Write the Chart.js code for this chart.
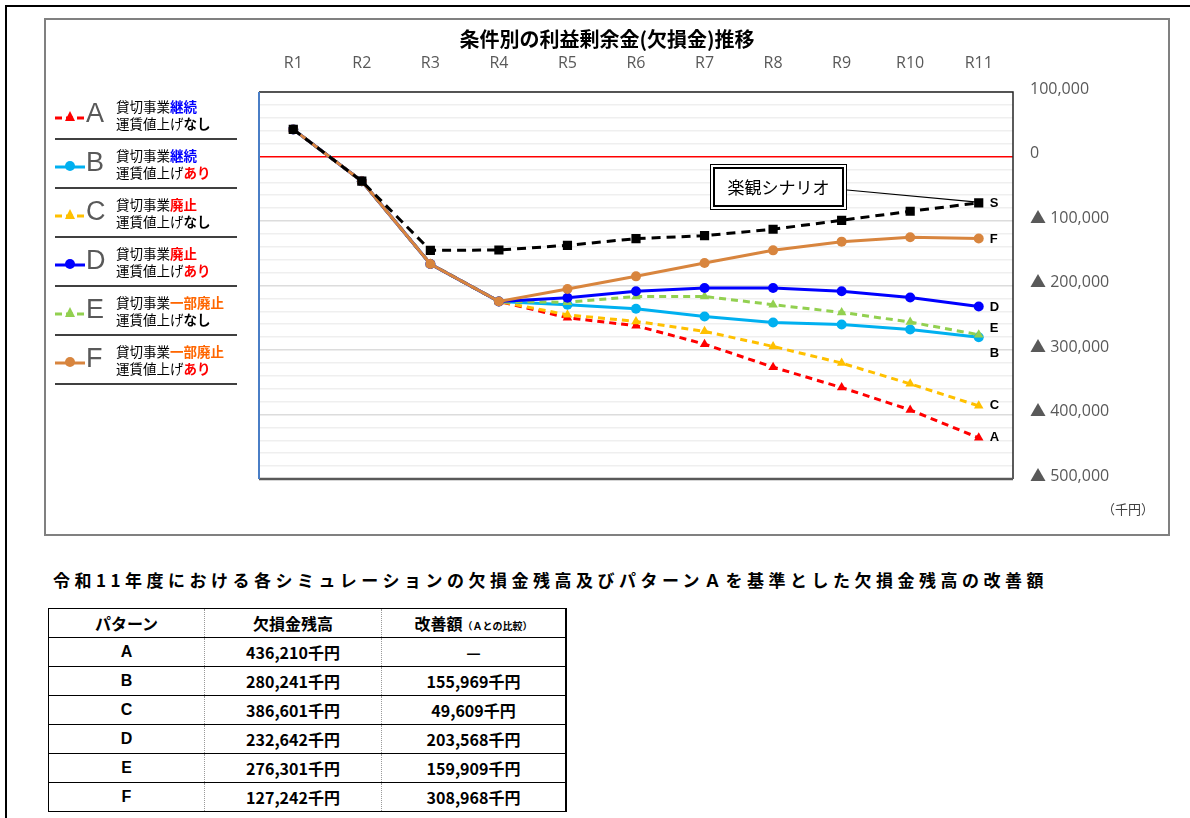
<!DOCTYPE html>
<html lang="ja">
<head>
<meta charset="utf-8">
<script src="https://cdn.jsdelivr.net/npm/chart.js@4.4.1/dist/chart.umd.min.js"></script>
<style>
  body { margin: 0; background: #fff; font-family: "Noto Sans CJK JP", sans-serif; }
  #page { position: relative; width: 1190px; height: 818px; overflow: hidden; }
  #pageLeft { position: absolute; left: 5px; top: 5px; width: 2px; height: 820px; background: #000; }
  #pageTop { position: absolute; left: 5px; top: 5px; width: 1190px; height: 2px; background: #000; }
  #frame { position: absolute; left: 44px; top: 18px; width: 1126px; height: 518px;
           box-sizing: border-box; border: 2px solid #808080; }
  #chartBox { position: absolute; left: 44px; top: 18px; width: 1126px; height: 518px; }
  #title { position: absolute; left: 44px; top: 24px; width: 1126px; text-align: center;
           font-size: 20px; font-weight: bold; color: #000; }
  #unit { position: absolute; left: 1102px; top: 499px; font-size: 13px; color: #404040; }
  #legend { position: absolute; left: 55px; top: 92px; width: 182px; }
  .entry { position: relative; height: 46px; border-bottom: 2px solid #404040; margin-bottom: 1px; }
  .entry svg { position: absolute; left: 0; top: 18px; }
  .entry .key { position: absolute; left: 31px; top: 6px; font-family: "Liberation Sans", Arial, sans-serif;
                font-size: 27px; color: #595959; }
  .entry .desc { position: absolute; left: 61px; top: 6px; font-size: 13.5px; line-height: 17px; color: #000; }
  .entry .desc b { font-weight: bold; }
  #tableTitle { position: absolute; left: 53px; top: 567px; font-size: 17px; font-weight: bold;
                letter-spacing: 4.5px; color: #000; white-space: nowrap; }
  #summary { position: absolute; left: 48px; top: 608px; border-collapse: collapse;
             font-size: 16px; font-weight: bold; }
  #summary td, #summary th { height: 28px; padding: 0; text-align: center; border-top: 1px solid #000;
             border-bottom: 1px solid #000; border-left: 1px dotted #999; border-right: 1px dotted #999; }
  #summary tr > :first-child { border-left: 1.5px solid #000; }
  #summary tr > :last-child { border-right: 2px solid #000; }
  #summary tr:first-child > * { border-top: 1.5px solid #000; }
  #summary .latin { font-family: "Liberation Sans", Arial, sans-serif; }
  #summary small { font-size: 10px; }
</style>
</head>
<body>
<div id="page">
  <div id="pageLeft"></div>
  <div id="pageTop"></div>
  <div id="frame"></div>
  <div id="chartBox"><canvas id="myChart" width="1126" height="518"></canvas></div>
  <div id="title">条件別の利益剰余金(欠損金)推移</div>
  <div id="unit">（千円）</div>
  <div id="legend"></div>
  <div id="tableTitle">令和11年度における各シミュレーションの欠損金残高及びパターンＡを基準とした欠損金残高の改善額</div>
  <table id="summary"></table>
</div>
<script>
// fiscal years (Reiwa)
const years = ["R1", "R2", "R3", "R4", "R5", "R6", "R7", "R8", "R9", "R10", "R11"];

// retained earnings per scenario, thousand yen (negative = deficit)
const seriesS = [42000, -38300, -145500, -145000, -137700, -127300, -122700, -112800, -98900, -84900, -71900];
const seriesA = [42000, -38300, -166600, -224700, -250000, -262400, -290900, -326600, -358200, -392900, -436210];
const seriesB = [42000, -38300, -166600, -224700, -229800, -236000, -248000, -257300, -260400, -268100, -280241];
const seriesC = [42000, -38300, -166600, -224700, -245500, -255700, -271000, -294500, -320300, -352500, -386601];
const seriesD = [42000, -38300, -166600, -224700, -219000, -209000, -204000, -204000, -209000, -218500, -232642];
const seriesE = [42000, -38300, -166600, -224700, -226000, -217000, -217000, -229800, -241700, -256700, -276301];
const seriesF = [42000, -38300, -166600, -224700, -205500, -185800, -165000, -145500, -132000, -125300, -127242];

// y axis range, grid step and labelled step
const yMax = 100000;
const yMin = -500000;
const yStep = 20000;
const yLabelStep = 100000;

// R11 summary table
const patterns = ["A", "B", "C", "D", "E", "F"];
const deficitR11 = ["436,210千円", "280,241千円", "386,601千円", "232,642千円", "276,301千円", "127,242千円"];
const improvement = ["—", "155,969千円", "49,609千円", "203,568千円", "159,909千円", "308,968千円"];

// legend text: business continued / abolished, fare raise yes / no
const businessWord = ["継続", "継続", "廃止", "廃止", "一部廃止", "一部廃止"];
const fareWord = ["なし", "あり", "なし", "あり", "なし", "あり"];

const wordColor = { "継続": "#0000ff", "廃止": "#ff0000", "一部廃止": "#ff6600", "なし": "#000000", "あり": "#ff0000" };

const styles = {
    A: { color: "#ff0000", dash: [7, 5], marker: "triangle" },
    B: { color: "#00b0f0", dash: [], marker: "circle" },
    C: { color: "#ffc000", dash: [7, 5], marker: "triangle" },
    D: { color: "#0000ff", dash: [], marker: "circle" },
    E: { color: "#92d050", dash: [7, 5], marker: "triangle" },
    F: { color: "#d8853e", dash: [], marker: "circle" }
};

function makeDataset(key, values, order) {
    const s = styles[key];
    return {
        label: key,
        data: values,
        borderColor: s.color,
        backgroundColor: s.color,
        borderWidth: 3,
        borderDash: s.dash,
        pointStyle: s.marker,
        pointRadius: s.marker === "circle" ? 5 : 5.5,
        pointBorderWidth: 0,
        tension: 0,
        order: order
    };
}

const datasets = [
    {
        label: "S",
        data: seriesS,
        borderColor: "#000",
        backgroundColor: "#000",
        borderWidth: 3,
        borderDash: [9, 6],
        pointStyle: "rect",
        pointRadius: 6.5,
        pointBorderWidth: 0,
        order: 0
    },
    makeDataset("F", seriesF, 1),
    makeDataset("D", seriesD, 2),
    makeDataset("E", seriesE, 3),
    makeDataset("B", seriesB, 4),
    makeDataset("C", seriesC, 5),
    makeDataset("A", seriesA, 6)
];

// labels next to the last point of each line
const endLabelShift = { S: 1, F: 1, D: 1, E: -6, B: 16, C: 0, A: 0 };

const endLabels = {
    id: "endLabels",
    afterDatasetsDraw(chart) {
        const ctx = chart.ctx;
        ctx.save();
        ctx.font = "bold 13px 'Liberation Sans', Arial, sans-serif";
        ctx.fillStyle = "#000";
        ctx.textBaseline = "middle";
        chart.data.datasets.forEach((ds, i) => {
            const meta = chart.getDatasetMeta(i);
            const last = meta.data[meta.data.length - 1];
            ctx.fillText(ds.label, last.x + 11, last.y + endLabelShift[ds.label]);
        });

        // optimistic scenario callout
        const sMeta = chart.getDatasetMeta(0);
        const sLast = sMeta.data[sMeta.data.length - 1];
        const bx = 666, by = 146, bw = 137, bh = 46;
        ctx.strokeStyle = "#000";
        ctx.lineWidth = 1.2;
        ctx.beginPath();
        ctx.moveTo(bx + bw, by + 26);
        ctx.lineTo(sLast.x - 4, sLast.y - 1);
        ctx.stroke();
        ctx.fillStyle = "#fff";
        ctx.fillRect(bx, by, bw, bh);
        ctx.lineWidth = 1;
        ctx.strokeRect(bx + 0.5, by + 0.5, bw - 1, bh - 1);
        ctx.lineWidth = 2;
        ctx.strokeRect(bx + 4, by + 4, bw - 8, bh - 8);
        ctx.fillStyle = "#000";
        ctx.font = "17px 'Noto Sans CJK JP', sans-serif";
        ctx.textAlign = "center";
        ctx.fillText("楽観シナリオ", bx + bw / 2, by + bh / 2 + 1);
        ctx.restore();
    },
    afterDraw(chart) {
        const { left, right, top, bottom } = chart.chartArea;
        const ctx = chart.ctx;
        ctx.save();
        ctx.lineWidth = 1.5;
        ctx.strokeStyle = "#262626";
        ctx.beginPath();
        ctx.moveTo(left, top);
        ctx.lineTo(right, top);
        ctx.lineTo(right, bottom);
        ctx.stroke();
        ctx.lineWidth = 2.5;
        ctx.strokeStyle = "#595959";
        ctx.beginPath();
        ctx.moveTo(left, bottom);
        ctx.lineTo(right, bottom);
        ctx.stroke();
        ctx.lineWidth = 2;
        ctx.strokeStyle = "#4a7ec6";
        ctx.beginPath();
        ctx.moveTo(left, top);
        ctx.lineTo(left, bottom);
        ctx.stroke();
        ctx.restore();
    }
};

const config = {
    type: "line",
    data: { labels: years, datasets: datasets },
    options: {
        responsive: false,
        animation: false,
        layout: { padding: { left: 215, right: 37, top: 34, bottom: 57 } },
        plugins: {
            legend: { display: false },
            tooltip: { enabled: false },
            title: { display: false }
        },
        scales: {
            x: {
                position: "top",
                offset: true,
                grid: { display: false, drawTicks: false },
                border: { display: false },
                ticks: {
                    padding: 19,
                    color: "#595959",
                    font: { family: "'Open Sans', sans-serif", size: 16 }
                },
                afterFit(scale) { scale.height = 40; }
            },
            y: {
                position: "right",
                min: yMin,
                max: yMax,
                grid: {
                    drawTicks: false,
                    color: (c) => {
                        const v = c.tick.value;
                        if (v === 0) return "#ff0000";
                        return v % yLabelStep === 0 ? "#dcdcdc" : "#efefef";
                    },
                    lineWidth: 1.5
                },
                border: { display: false },
                ticks: {
                    autoSkip: false,
                    padding: 17,
                    labelOffset: -3,
                    color: "#595959",
                    font: { family: "'Open Sans', 'Noto Sans CJK JP', sans-serif", size: 16 },
                    // empty string keeps the grid line but shows no label
                    callback: (v) => {
                        if (v % yLabelStep !== 0) return "";
                        if (v < 0) return "▲ " + Math.abs(v).toLocaleString("en-US");
                        return v.toLocaleString("en-US");
                    }
                },
                // one grid line every yStep
                afterBuildTicks(scale) {
                    const ticks = [];
                    for (let v = yMin; v <= yMax; v += yStep) ticks.push({ value: v });
                    scale.ticks = ticks;
                },
                afterFit(scale) { scale.width = 120; }
            }
        }
    },
    plugins: [endLabels]
};

const myChart = new Chart(document.getElementById("myChart"), config);

// legend markers
function legendIcon(key) {
    const s = styles[key];
    const dash = s.dash.length ? 'stroke-dasharray="7 4"' : "";
    let mark;
    if (s.marker === "circle") {
        mark = '<circle cx="15" cy="7" r="5" fill="' + s.color + '"/>';
    } else {
        mark = '<polygon points="15,1 20,11 10,11" fill="' + s.color + '"/>';
    }
    return '<svg width="30" height="14"><line x1="0" y1="8" x2="30" y2="8" stroke="' + s.color +
        '" stroke-width="3" ' + dash + '/>' + mark + '</svg>';
}

const legend = document.getElementById("legend");
patterns.forEach((key, i) => {
    const bw = businessWord[i];
    const fw = fareWord[i];
    const div = document.createElement("div");
    div.className = "entry";
    div.innerHTML = legendIcon(key) +
        '<span class="key">' + key + '</span>' +
        '<div class="desc">貸切事業<b style="color:' + wordColor[bw] + '">' + bw + '</b><br>' +
        '運賃値上げ<b style="color:' + wordColor[fw] + '">' + fw + '</b></div>';
    legend.appendChild(div);
});

// summary table
const table = document.getElementById("summary");
let html = '<tr><th style="width:155px">パターン</th><th style="width:176px">欠損金残高</th>' +
    '<th style="width:183px">改善額<small>（Ａとの比較）</small></th></tr>';
patterns.forEach((key, i) => {
    html += '<tr><td class="latin">' + key + '</td><td>' + deficitR11[i] + '</td><td>' + improvement[i] + '</td></tr>';
});
table.innerHTML = html;
</script>
</body>
</html>
